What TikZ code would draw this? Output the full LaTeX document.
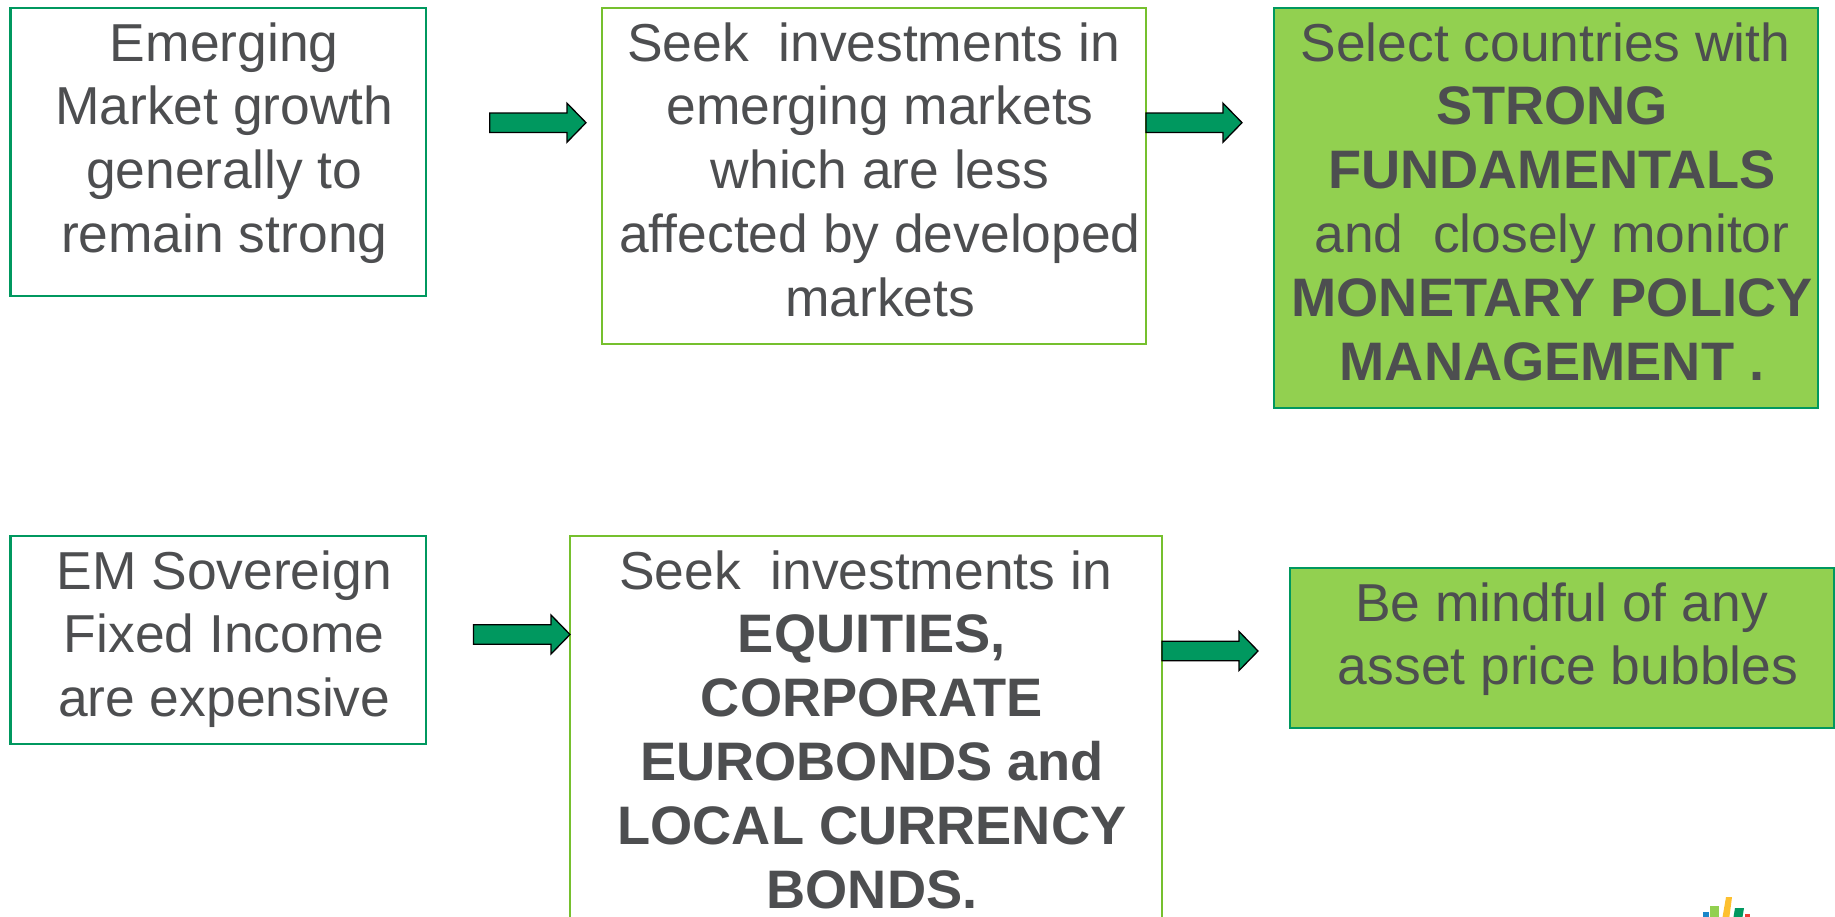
\documentclass[tikz,border=0pt]{standalone}
\usepackage{fontspec}
\usetikzlibrary{calc}
\setmainfont{Liberation Sans}
\definecolor{txt}{HTML}{4D4E50}
\definecolor{dkgreen}{HTML}{00985F}
\definecolor{ltgreen}{HTML}{76C02E}
\definecolor{fillgreen}{HTML}{92D050}
\definecolor{logoblue}{HTML}{1B87C9}
\definecolor{logoyellow}{HTML}{FDC02F}
\definecolor{logored}{HTML}{EE3B36}
\newcommand{\boxt}[3]{\parbox[c][#2pt][t]{#1pt}{\fontsize{53.4}{63.8}\selectfont\centering\leftskip=12pt plus 1fil\relax\rule{0pt}{53pt}#3\par}}
\newcommand{\tsp}{\kern13pt\relax}
\newcommand{\bt}[1]{{\fontsize{54.2}{63.8}\selectfont\bfseries #1}}
\newcommand{\blockarrow}[2]{\draw[blockarrow] let \p1=(#1), \p2=(#2) in
  (\x1,\y1+9.7pt) -- (\x2-19pt,\y1+9.7pt) -- (\x2-19pt,\y1+19.5pt) -- (\x2,\y1) -- (\x2-19pt,\y1-19.5pt) -- (\x2-19pt,\y1-9.7pt) -- (\x1,\y1-9.7pt) -- cycle;}
\tikzset{
  flowbox/.style={draw,line width=2.2pt,inner sep=0pt,outer sep=0pt,text=txt,anchor=north west},
  plainbox/.style={flowbox,draw=dkgreen,fill=white},
  lightbox/.style={flowbox,draw=ltgreen,fill=white},
  filledbox/.style={flowbox,draw=dkgreen,fill=fillgreen},
  blockarrow/.style={draw=black,line width=1.3pt,fill=dkgreen,line join=miter}
}
\begin{document}
\begin{tikzpicture}[x=1pt,y=1pt]
\useasboundingbox (0,0) rectangle (1835,-916);
\clip (0,0) rectangle (1835,-916);
\node[plainbox] (b1) at (10.5,-8) {\boxt{415.5}{288}{Emerging\\Market growth\\generally to\\remain strong}};
\node[lightbox] (b2) at (602,-8) {\boxt{544}{336}{Seek\ \ investments in\tsp\\emerging markets\\which are less\\affected by developed\\markets}};
\node[filledbox] (b3) at (1274,-8) {\boxt{544}{400}{Select countries with\tsp\\\bt{STRONG}\\\bt{FUNDAMENTALS}\\and\ \ closely monitor\\\bt{MONETARY POLICY}\\\bt{MANAGEMENT .}}};
\node[plainbox] (b4) at (10.5,-536) {\boxt{415.5}{208}{EM Sovereign\\Fixed Income\\are expensive}};
\node[lightbox] (b5) at (570,-536) {\boxt{592}{420}{Seek\ \ investments in\tsp\\\bt{EQUITIES,}\\\bt{CORPORATE}\\\bt{EUROBONDS and}\\\bt{LOCAL CURRENCY}\\\bt{BONDS.}}};
\node[filledbox] (b6) at (1290,-568) {\boxt{544}{160}{Be mindful of any\tsp\\asset price bubbles}};
\coordinate (a1s) at (489.7,-122.7);
\coordinate (a1e) at (586,-122.7);
\coordinate (a3s) at (473.5,-634.5);
\coordinate (a4e) at (1258,-651);
\coordinate (a2e) at (1242,-122.7);
\blockarrow{a1s}{a1e}
\blockarrow{b2.east |- a2e}{a2e}
\blockarrow{a3s}{b5.west |- a3s}
\blockarrow{b5.east |- a4e}{a4e}
\fill[logoblue] (1703,-912) rectangle (1709,-920);
\fill[fillgreen] (1710,-906) rectangle (1719,-920);
\fill[logoyellow] (1726,-897) -- (1732,-897) -- (1729,-920) -- (1722,-920) -- cycle;
\fill[dkgreen] (1735,-908) -- (1744,-908) -- (1742,-920) -- (1733,-920) -- cycle;
\fill[logored] (1745,-914) rectangle (1750,-920);
\end{tikzpicture}
\end{document}
